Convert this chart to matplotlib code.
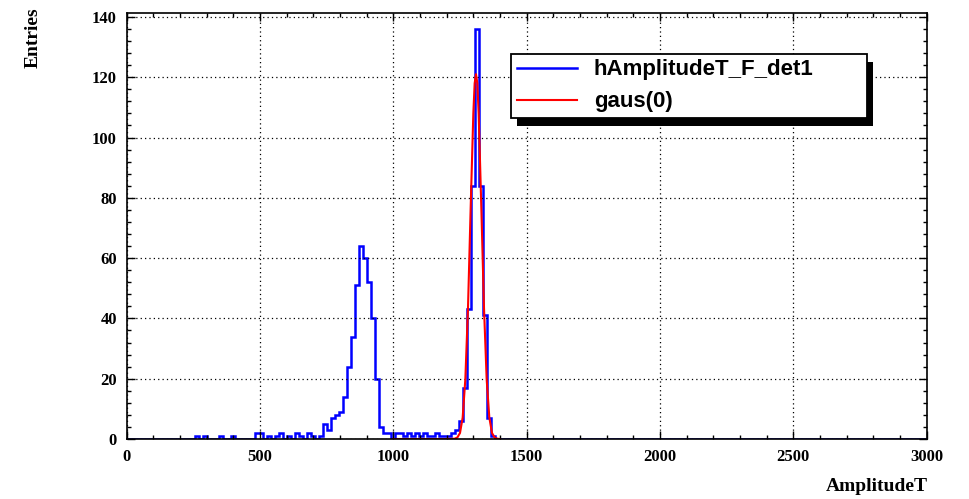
from matplotlib import pyplot as plt
from matplotlib.patches import Rectangle
import numpy as np

# Histogram hAmplitudeT_F_det1: 200 bins of width 15 from 0 to 3000
n_bins = 200
x_min, x_max = 0, 3000
# only the non-empty bins: lower edge of the bin and its count
bin_start = [255, 285, 345, 390, 480, 495, 525, 555, 570, 600, 630, 645, 675, 690, 720,
             735, 750, 765, 780, 795, 810, 825, 840, 855, 870, 885, 900, 915, 930, 945,
             960, 975, 1005, 1020, 1035, 1050, 1065, 1080, 1095, 1110, 1125, 1140, 1155,
             1170, 1185, 1200, 1215, 1230, 1245, 1260, 1275, 1290, 1305, 1320, 1335,
             1350, 1365]
bin_count = [1, 1, 1, 1, 2, 2, 1, 1, 2, 1, 2, 1, 2, 1, 1,
             5, 3, 7, 8, 9, 14, 24, 34, 51, 64, 60, 52, 40, 20, 4,
             2, 2, 2, 2, 1, 2, 1, 2, 1, 2, 1, 1, 2,
             1, 1, 1, 2, 3, 6, 17, 43, 84, 136, 84, 41,
             7, 1]

# gaus(0) fit curve
fit_x = [1000, 1200, 1230, 1240, 1250, 1260, 1270, 1280, 1290, 1300, 1305, 1310,
         1315, 1320, 1330, 1340, 1350, 1360, 1370, 1380, 1390, 1400]
fit_y = [0, 0, 0.1, 0.5, 2.0, 7.1, 19.8, 43.5, 76.7, 108, 118, 121,
         118, 108, 76.7, 43.5, 19.8, 7.1, 2.0, 0.5, 0.1, 0]

x_ticks = [0, 500, 1000, 1500, 2000, 2500, 3000]
y_ticks = [0, 20, 40, 60, 80, 100, 120, 140]

edges = np.linspace(x_min, x_max, n_bins + 1)
counts = np.zeros(n_bins)
for s, c in zip(bin_start, bin_count):
    counts[int(round((s - x_min) / (edges[1] - edges[0])))] = c

fig = plt.figure(figsize=(9.7, 4.99), dpi=100)
ax = fig.add_axes([0.1306, 0.1202, 0.8247, 0.8537])

ax.stairs(counts, edges, color="#0000ff", linewidth=1.8, label="hAmplitudeT_F_det1")
ax.plot(fit_x, fit_y, color="#ff0000", linewidth=1.5, label="gaus(0)")

ax.set_xlim(x_min, x_max)
ax.set_ylim(0, 141.3)
ax.set_xticks(x_ticks)
ax.set_yticks(y_ticks)
ax.set_xticks(np.arange(0, 3001, 100), minor=True)
ax.set_yticks(np.arange(0, 141, 4), minor=True)
ax.tick_params(which="both", direction="in", top=True, right=True, width=1)
ax.tick_params(which="major", length=6, pad=7)
ax.tick_params(which="minor", length=3)
for lab in ax.get_xticklabels() + ax.get_yticklabels():
    lab.set_family("Liberation Serif")
    lab.set_fontweight("bold")
    lab.set_fontsize(12)
for sp in ax.spines.values():
    sp.set_linewidth(1.2)

# dotted grid at the major ticks
ax.grid(True, which="major", color="black", linestyle=(0, (1, 2.5)), linewidth=0.9)

# axis titles, ROOT style (top-left and bottom-right)
fig.text(0.034, 0.985, "Entries", rotation=90, ha="center", va="top",
         family="Liberation Serif", fontweight="bold", fontsize=14)
fig.text(0.957, 0.008, "AmplitudeT", ha="right", va="bottom",
         family="Liberation Serif", fontweight="bold", fontsize=14)

leg = ax.legend(loc="center left", bbox_to_anchor=(0.481, 0.753, 0.444, 0.152),
                mode="expand", borderaxespad=0, fancybox=False, handlelength=2.7,
                prop={"family": "Liberation Sans", "weight": "bold", "size": 16},
                labelspacing=0.5, handletextpad=0.75, borderpad=0.25,
                framealpha=1)
leg.get_frame().set_edgecolor("black")
leg.get_frame().set_facecolor("white")
leg.get_frame().set_linewidth(1.3)
leg.set_zorder(5)

# black shadow behind the legend box
fig.canvas.draw()
bb = leg.get_window_extent().transformed(fig.transFigure.inverted())
shadow = Rectangle((bb.x0 + 6 / 970, bb.y0 - 8 / 499), bb.width, bb.height,
                   transform=fig.transFigure, facecolor="black", edgecolor="none",
                   zorder=4.9, clip_on=False)
ax.add_artist(shadow)

plt.savefig("out.png", dpi=100)
